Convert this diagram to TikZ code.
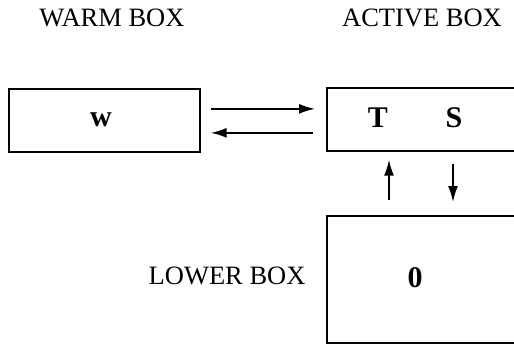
\documentclass[tikz,border=0pt]{standalone}
\usepackage{fontspec}
\setmainfont{Liberation Serif}
\usetikzlibrary{arrows.meta}
\begin{document}
\begin{tikzpicture}[x=1pt,y=-1pt,
        box/.style={draw, line width=1.7pt, inner sep=0pt, anchor=north west},
        title/.style={font=\fontsize{26.5}{30}\selectfont},
        sym/.style={font=\fontsize{30}{34}\selectfont\bfseries},
        flow/.style={line width=1.8pt, -{Latex[length=16pt,width=10pt]}}]
        \useasboundingbox (0,0) rectangle (514,345);
        \clip (0,0) rectangle (514,345);

        % Boxes (active and lower run off the right side)
        \node[box, minimum width=191pt, minimum height=63pt] (warm) at (8,88) {};
        \node[box, minimum width=220pt, minimum height=63pt] (active) at (326,87) {};
        \node[box, minimum width=220pt, minimum height=127pt] (lower) at (326,215) {};

        % Titles
        \node[title] (warmtitle) at (112,18) {WARM BOX};
        \node[title] (activetitle) at (422,18) {ACTIVE BOX};
        \node[title, anchor=east] (lowertitle) at (309,276) {LOWER BOX};

        % Box contents
        \node[sym] (w) at (101,120) {w};
        \node[sym] (T) at (378,118) {T};
        \node[sym] (S) at (454,118) {S};
        \node[sym] (zero) at (415,278) {0};

        % Exchange between warm and active box
        \draw[flow] ([xshift=10pt,yshift=11.5pt]warm.east) -- ([xshift=-11pt,yshift=11.5pt]warm.east -| active.west);
        \draw[flow] ([xshift=-13pt,yshift=-12.5pt]warm.east -| active.west) -- ([xshift=10pt,yshift=-12.5pt]warm.east);

        % Exchange between active and lower box
        \coordinate (up) at (389,0);
        \coordinate (down) at (453,0);
        \draw[flow, shorten <=15pt, shorten >=8pt] (lower.north -| up) -- (active.south -| up);
        \draw[flow, shorten <=12pt, shorten >=13pt] (active.south -| down) -- (lower.north -| down);
\end{tikzpicture}
\end{document}
